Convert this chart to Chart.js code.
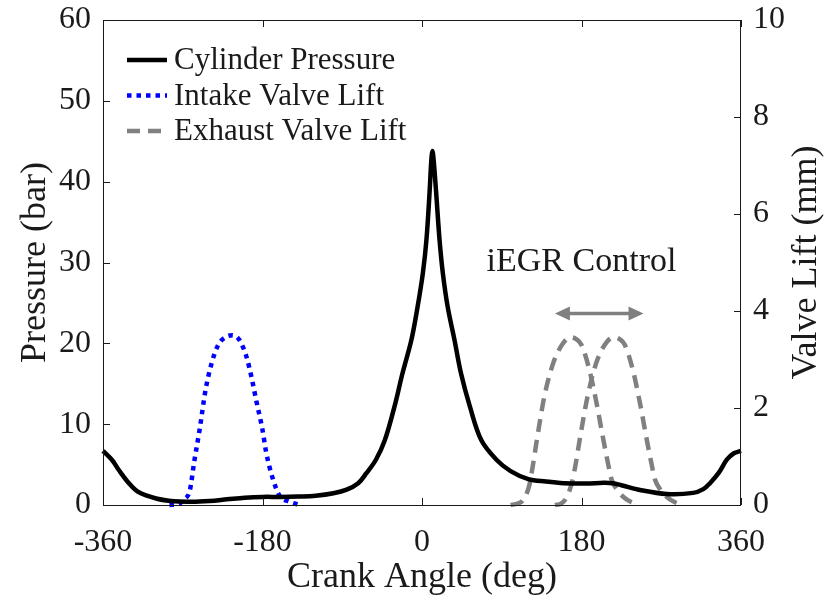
<!DOCTYPE html>
<html>
<head>
<meta charset="utf-8">
<script src="https://cdn.jsdelivr.net/npm/chart.js@4"></script>
<style>
  html, body { margin: 0; padding: 0; background: #fff; }
  #wrap { width: 831px; height: 601px; }
</style>
</head>
<body>
<div id="wrap"><canvas id="cycle"></canvas></div>
<script>
// クランク角 [deg] と筒内圧 [bar]
const pressureDeg = [-360, -350, -342, -330, -320, -300, -280, -260, -240, -220, -200, -180, -160, -140, -120, -100, -85, -72, -63, -52, -42, -31, -22, -12, -5, 1, 5, 8.5, 10.5, 11.8, 13.2, 16, 19.8, 23.5, 29, 36.7, 44, 54, 67, 84, 100, 120, 140, 160, 185, 205, 215, 225, 246, 276, 306, 318, 325, 335, 344, 352, 360];
const pressureBar = [6.7, 5.6, 4.3, 2.6, 1.6, 0.8, 0.45, 0.4, 0.5, 0.7, 0.9, 1.0, 1.0, 1.05, 1.15, 1.45, 1.9, 2.7, 3.9, 5.6, 8.0, 12.2, 16.3, 20.4, 24.5, 28.7, 32.8, 38.6, 42.6, 43.8, 42.6, 38.6, 32.8, 28.7, 24.5, 20.4, 16.3, 12.2, 8.0, 5.6, 4.2, 3.2, 2.9, 2.7, 2.65, 2.75, 2.7, 2.45, 1.86, 1.36, 1.5, 2.0, 2.7, 4.0, 5.6, 6.4, 6.7];

// 吸気バルブリフト [mm]
const intakeDeg = [-285, -275, -268, -262, -257, -251, -244, -237, -230, -222, -214, -206, -198, -192, -187, -180, -176, -169, -161, -150, -138];
const intakeLift = [0, 0.02, 0.12, 0.3, 0.9, 1.55, 2.4, 2.95, 3.3, 3.46, 3.5, 3.4, 3.05, 2.6, 2.15, 1.55, 1.1, 0.58, 0.2, 0.07, 0];

// 排気バルブリフト [mm]（進角側・遅角側）
const exhaustDegA = [100, 108, 114, 121, 125, 129, 138, 148, 159, 168, 174, 180, 189, 197, 204, 210, 214, 220, 227, 236, 245];
const exhaustLiftA = [0, 0.03, 0.1, 0.4, 0.8, 1.27, 2.23, 2.92, 3.33, 3.46, 3.42, 3.3, 2.78, 2.1, 1.41, 0.85, 0.52, 0.32, 0.17, 0.06, 0];
const exhaustDegB = [150, 157, 163, 169, 173, 178, 187, 197, 208, 217, 223, 229, 238, 246, 253, 259, 263, 269, 276, 285, 294];
const exhaustLiftB = [0, 0.03, 0.15, 0.45, 0.8, 1.35, 2.25, 2.95, 3.35, 3.46, 3.42, 3.3, 2.78, 2.1, 1.41, 0.85, 0.52, 0.32, 0.17, 0.06, 0];

// 軸の目盛り
const angleTicks = [-360, -180, 0, 180, 360];
const pressureTicks = [0, 10, 20, 30, 40, 50, 60];
const liftTicks = [0, 2, 4, 6, 8, 10];

// iEGR の矢印とラベル
const shiftFrom = 150;
const shiftTo = 250;
const shiftLift = 3.95;
const noteText = 'iEGR Control';
const noteDeg = 180;
const noteLift = 5.0;

const SERIF = '"Liberation Serif", "Times New Roman", serif';
const INK = '#1a1a1a';
const GRAY = 'rgb(128,128,128)';

function toPoints(xs, ys){
  return xs.map((x, i) => ({ x: x, y: ys[i] }));
}

// 縦軸：幅固定、ラベルのはみ出し分の余白は取らない
function fitVertical(width){
  return s => {
    s.width = width;
    s.paddingTop = 0;
    s.paddingBottom = 0;
  };
}

// 目盛りは内向き、枠は四辺
const boxPlugin = {
  id: 'box',
  afterDatasetsDraw(chart){
    const { ctx, chartArea: a, scales } = chart;
    ctx.save();
    ctx.strokeStyle = INK;
    ctx.lineWidth = 1;
    ctx.strokeRect(a.left + 0.5, a.top + 0.5, a.right - a.left - 1, a.bottom - a.top);
    const len = 7;
    ctx.beginPath();
    angleTicks.forEach(v => {
      const px = Math.round(scales.x.getPixelForValue(v)) + 0.5;
      ctx.moveTo(px, a.bottom); ctx.lineTo(px, a.bottom - len);
      ctx.moveTo(px, a.top); ctx.lineTo(px, a.top + len);
    });
    pressureTicks.forEach(v => {
      const py = Math.round(scales.y.getPixelForValue(v)) + 0.5;
      ctx.moveTo(a.left, py); ctx.lineTo(a.left + len, py);
    });
    liftTicks.forEach(v => {
      const py = Math.round(scales.y2.getPixelForValue(v)) + 0.5;
      ctx.moveTo(a.right, py); ctx.lineTo(a.right - len, py);
    });
    ctx.stroke();

    // 右軸タイトル（下から上へ読む向き）
    ctx.font = '36px ' + SERIF;
    ctx.fillStyle = INK;
    ctx.textAlign = 'center';
    ctx.textBaseline = 'middle';
    ctx.translate(chart.width - 24, (a.top + a.bottom) / 2);
    ctx.rotate(-Math.PI / 2);
    ctx.fillText('Valve Lift (mm)', 0, 0);
    ctx.restore();
  }
};

// 凡例（軸の内側・枠なし）
const legendPlugin = {
  id: 'innerLegend',
  afterDatasetsDraw(chart){
    const { ctx, chartArea: a } = chart;
    const items = chart.data.datasets.filter(d => !d.noLegend);
    ctx.save();
    ctx.font = '31px ' + SERIF;
    ctx.textBaseline = 'middle';
    items.forEach((d, i) => {
      const y = a.top + 40 + i * 35.5;
      const x0 = a.left + 24;
      ctx.strokeStyle = d.borderColor;
      ctx.lineWidth = d.borderWidth;
      ctx.setLineDash(d.borderDash || []);
      ctx.beginPath();
      ctx.moveTo(x0, y); ctx.lineTo(x0 + 40, y);
      ctx.stroke();
      ctx.setLineDash([]);
      ctx.fillStyle = INK;
      ctx.fillText(d.label, x0 + 47, y + 1);
    });
    ctx.restore();
  }
};

// 排気タイミング可変幅の矢印と注記
const notePlugin = {
  id: 'iegrNote',
  afterDatasetsDraw(chart){
    const { ctx, scales } = chart;
    const x1 = scales.x.getPixelForValue(shiftFrom);
    const x2 = scales.x.getPixelForValue(shiftTo);
    const y = scales.y2.getPixelForValue(shiftLift);
    const head = 15, half = 7;
    ctx.save();
    ctx.strokeStyle = GRAY;
    ctx.fillStyle = GRAY;
    ctx.lineWidth = 3.5;
    ctx.beginPath();
    ctx.moveTo(x1 + head - 2, y); ctx.lineTo(x2 - head + 2, y);
    ctx.stroke();
    ctx.beginPath();
    ctx.moveTo(x1, y); ctx.lineTo(x1 + head, y - half); ctx.lineTo(x1 + head, y + half); ctx.closePath();
    ctx.moveTo(x2, y); ctx.lineTo(x2 - head, y - half); ctx.lineTo(x2 - head, y + half); ctx.closePath();
    ctx.fill();
    ctx.fillStyle = INK;
    ctx.font = '34px ' + SERIF;
    ctx.textAlign = 'center';
    ctx.textBaseline = 'middle';
    ctx.fillText(noteText, scales.x.getPixelForValue(noteDeg), scales.y2.getPixelForValue(noteLift));
    ctx.restore();
  }
};

const tickFont = { family: SERIF, size: 32 };
const titleFont = { family: SERIF, size: 36 };

new Chart(document.getElementById('cycle'), {
  type: 'line',
  data: {
    datasets: [
      {
        label: 'Cylinder Pressure',
        data: toPoints(pressureDeg, pressureBar),
        yAxisID: 'y',
        borderColor: '#000',
        borderWidth: 4.5,
        tension: 0.35,
        pointRadius: 0,
        clip: false
      },
      {
        label: 'Intake Valve Lift',
        data: toPoints(intakeDeg, intakeLift),
        yAxisID: 'y2',
        borderColor: 'rgb(0,0,255)',
        borderWidth: 4.5,
        borderDash: [4.5, 5],
        cubicInterpolationMode: 'monotone',
        pointRadius: 0,
        clip: false
      },
      {
        label: 'Exhaust Valve Lift',
        data: toPoints(exhaustDegA, exhaustLiftA),
        yAxisID: 'y2',
        borderColor: GRAY,
        borderWidth: 4.5,
        borderDash: [13, 8],
        cubicInterpolationMode: 'monotone',
        pointRadius: 0,
        clip: false
      },
      {
        label: 'Exhaust Valve Lift',
        noLegend: true,
        data: toPoints(exhaustDegB, exhaustLiftB),
        yAxisID: 'y2',
        borderColor: GRAY,
        borderWidth: 4.5,
        borderDash: [13, 8],
        cubicInterpolationMode: 'monotone',
        pointRadius: 0,
        clip: false
      }
    ]
  },
  options: {
    responsive: true,
    maintainAspectRatio: false,
    animation: false,
    events: [],
    layout: { padding: { top: 20, left: 0, right: 0, bottom: 0 } },
    plugins: {
      legend: { display: false },
      tooltip: { enabled: false }
    },
    scales: {
      x: {
        type: 'linear',
        min: -360,
        max: 360,
        afterBuildTicks: s => { s.ticks = angleTicks.map(v => ({ value: v })); },
        afterFit: s => { s.height = 96; },
        ticks: { font: tickFont, color: INK, padding: 18, maxRotation: 0 },
        grid: { display: false, drawTicks: false },
        border: { display: false },
        title: { display: true, text: 'Crank Angle (deg)', font: titleFont, color: INK, padding: { top: 0, bottom: 2 } }
      },
      y: {
        position: 'left',
        min: 0,
        max: 60,
        afterBuildTicks: s => { s.ticks = pressureTicks.map(v => ({ value: v })); },
        afterFit: fitVertical(103),
        ticks: { font: tickFont, color: INK, padding: 12 },
        grid: { display: false, drawTicks: false },
        border: { display: false },
        title: { display: true, text: 'Pressure (bar)', font: titleFont, color: INK, padding: { top: 14, bottom: 0 } }
      },
      y2: {
        position: 'right',
        min: 0,
        max: 10,
        afterBuildTicks: s => { s.ticks = liftTicks.map(v => ({ value: v })); },
        afterFit: fitVertical(90),
        ticks: { font: tickFont, color: INK, padding: 12 },
        grid: { display: false, drawTicks: false },
        border: { display: false },
        title: { display: false }
      }
    }
  },
  plugins: [boxPlugin, legendPlugin, notePlugin]
});
</script>
</body>
</html>
